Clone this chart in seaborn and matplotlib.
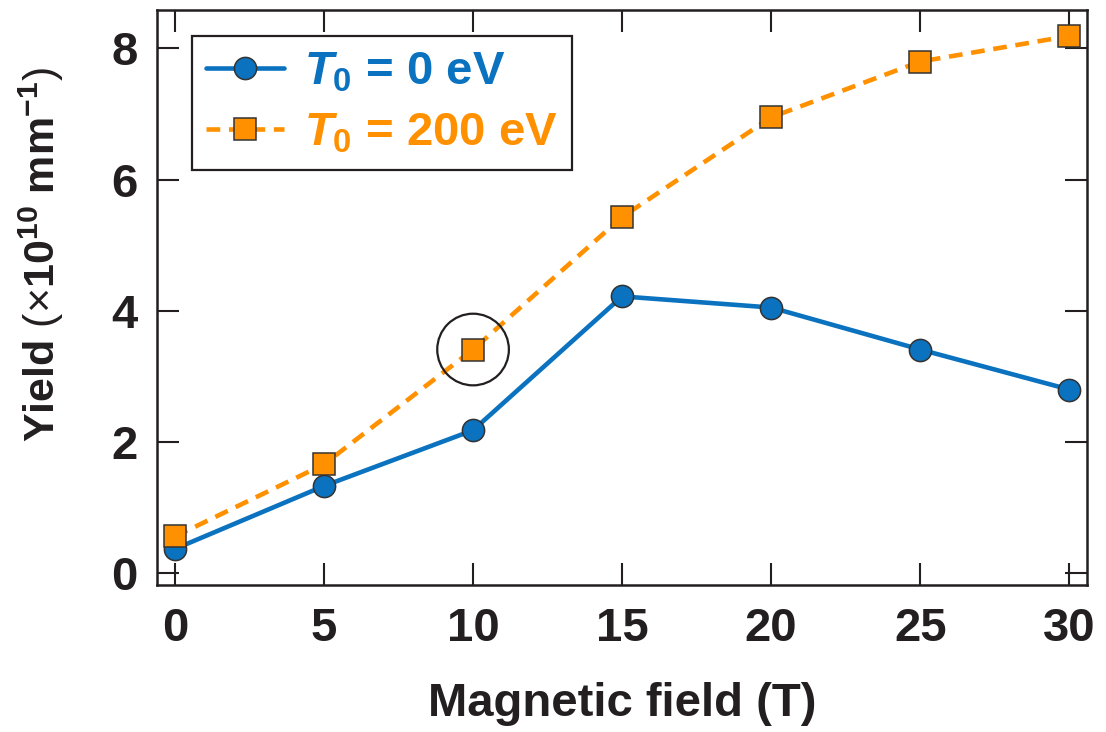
import matplotlib
matplotlib.use("Agg")
import matplotlib.pyplot as plt
import seaborn as sns
import pandas as pd

# Yield versus applied magnetic field for two initial electron temperatures
field = [0, 5, 10, 15, 20, 25, 30]
yield_t0_0 = [0.37, 1.33, 2.18, 4.22, 4.05, 3.41, 2.80]
yield_t0_200 = [0.56, 1.66, 3.41, 5.43, 6.95, 7.80, 8.19]
series_names = ["T0 = 0 eV", "T0 = 200 eV"]
legend_labels = [r"$T_{\mathbf{0}}$ = 0 eV", r"$T_{\mathbf{0}}$ = 200 eV"]
highlight = (10, 3.41)

xticks = [0, 5, 10, 15, 20, 25, 30]
yticks = [0, 2, 4, 6, 8]

BLUE = "#0a72bf"
ORANGE = "#ff9100"
INK = "#231f20"

sns.set_theme(style="ticks")
plt.rcParams.update({
    "font.family": ["Liberation Sans", "DejaVu Sans"],
    "font.weight": "bold",
    "mathtext.fontset": "custom",
    "mathtext.rm": "Liberation Sans:bold",
    "mathtext.bf": "Liberation Sans:bold",
    "mathtext.it": "Liberation Sans:italic:bold",
    "mathtext.sf": "Liberation Sans:weight=normal",
    "text.color": INK,
    "axes.labelcolor": INK,
    "xtick.color": INK,
    "ytick.color": INK,
    "axes.edgecolor": INK,
})

df = pd.concat([
    pd.DataFrame({"field": field, "yield": yield_t0_0, "series": series_names[0]}),
    pd.DataFrame({"field": field, "yield": yield_t0_200, "series": series_names[1]}),
], ignore_index=True)

fig = plt.figure(figsize=(11.06, 7.32), dpi=100)
ax = fig.add_axes([0.142, 0.2008, 0.841, 0.785])

sns.lineplot(
    data=df, x="field", y="yield", hue="series", style="series",
    palette={series_names[0]: BLUE, series_names[1]: ORANGE},
    markers={series_names[0]: "o", series_names[1]: "s"},
    dashes={series_names[0]: "", series_names[1]: (3.0, 1.9)},
    linewidth=3.3, markersize=16, markeredgecolor="#333333",
    markeredgewidth=1.1, ax=ax, legend=True, zorder=3,
)

# ring around the T0 = 200 eV point at 10 T
ax.scatter([highlight[0]], [highlight[1]], s=2660, facecolors="none",
           edgecolors=INK, linewidths=1.6, zorder=4)

ax.set_xlim(-0.6, 30.6)
ax.set_ylim(-0.18, 8.58)
ax.set_xticks(xticks)
ax.set_yticks(yticks)
ax.tick_params(direction="in", length=16, width=1.5, top=True, right=True,
               labelsize=34, pad=14)
ax.tick_params(axis="x", pad=16)
for sp in ax.spines.values():
    sp.set_linewidth(1.8)
    sp.set_visible(True)

ax.set_xlabel("Magnetic field (T)", fontsize=34, fontweight="bold", labelpad=22)
ax.set_ylabel(r"Yield $\mathsf{(×}$10$^{\mathrm{10}}$ mm$^{\mathrm{-1}}$$\mathsf{)}$",
              fontsize=31, fontweight="bold")
ax.yaxis.set_label_coords(-0.098, 0.575)

handles, labels = ax.get_legend_handles_labels()
leg = ax.legend(handles, legend_labels, loc="upper left",
                bbox_to_anchor=(0.0376, 0.955), borderaxespad=0,
                fontsize=34, handlelength=1.65, handletextpad=0.42,
                labelspacing=0.36, borderpad=0.3, frameon=True,
                fancybox=False, framealpha=1, edgecolor=INK)
leg.get_frame().set_linewidth(1.6)
for txt, col in zip(leg.get_texts(), [BLUE, ORANGE]):
    txt.set_color(col)

fig.savefig("out.png", dpi=100)
